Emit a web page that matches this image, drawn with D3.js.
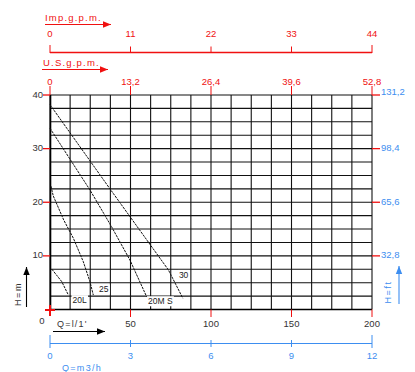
<!DOCTYPE html>
<html><head><meta charset="utf-8">
<script src="https://cdn.jsdelivr.net/npm/d3@7"></script>
<style>body{margin:0;background:#fff}svg{display:block}text{font-family:"Liberation Sans",Arial,sans-serif}</style>
</head><body><svg id="c" width="415" height="372"></svg>
<script>
// ---- data ----
const flowTicks = [0, 50, 100, 150, 200];            // Q = l/1'
const headTicks = [0, 10, 20, 30, 40];               // H = m
const impTicks = [0, 11, 22, 33, 44];                // Imp.g.p.m.
const usTicks = [0, 13.2, 26.4, 39.6, 52.8];         // U.S.g.p.m.
const usLabels = ["0", "13,2", "26,4", "39,6", "52,8"];
const m3hTicks = [0, 3, 6, 9, 12];                   // Q = m3/h
const ftTicks = [32.8, 65.6, 98.4, 131.2];           // H = ft
const ftLabels = ["32,8", "65,6", "98,4", "131,2"];
const curveNames = ["20L", "25", "20M S", "30"];
const q20L = [1.2, 7.3, 11.4];
const h20L = [7.5, 5.2, 2.7];
const q25 = [0.6, 2, 8.5, 14.5, 20.7, 24.8, 26.9];
const h25 = [23, 21.2, 16.7, 13.3, 8.9, 5.2, 2.7];
const q20M = [0, 24.8, 38.3, 49.7, 60];
const h20M = [33.8, 22.3, 15.4, 9.2, 2.4];
const q30 = [0, 37, 73.5, 82.5];
const h30 = [38.2, 22.6, 7.4, 2.1];

const RED = "#f01010", BLUE = "#3d8ef0", DARK = "#333";
const svg = d3.select("#c");
const x = d3.scaleLinear([0, 200], [50, 372]);
const y = d3.scaleLinear([0, 40], [309.5, 95]);
const xImp = d3.scaleLinear([0, 44], [50, 372]);
const xUS = d3.scaleLinear([0, 52.8], [50, 372]);
const xM3 = d3.scaleLinear([0, 12], [50, 372]);
const yFt = d3.scaleLinear([0, 131.2], [309.5, 95]);

// grid
const g = svg.append("g");
d3.range(0, 12.0001, 0.75).forEach(v => {
  g.append("line").attr("x1", xM3(v)).attr("x2", xM3(v)).attr("y1", 95).attr("y2", 309.5)
   .attr("stroke", "#111").attr("stroke-width", 1.1);
});
d3.range(0, 40.0001, 2.5).forEach(v => {
  g.append("line").attr("x1", 50).attr("x2", 372).attr("y1", y(v)).attr("y2", y(v))
   .attr("stroke", "#111").attr("stroke-width", 1.1);
});
g.append("line").attr("x1", 50.5).attr("x2", 50.5).attr("y1", 95).attr("y2", 310).attr("stroke", "#000").attr("stroke-width", 1.6);
g.append("line").attr("x1", 50).attr("x2", 372).attr("y1", 309.5).attr("y2", 309.5).attr("stroke", "#000").attr("stroke-width", 1.6);

// curves
const line = d3.line().x(d => x(d[0])).y(d => y(d[1]));
const curves = [[q20L, h20L], [q25, h25], [q20M, h20M], [q30, h30]];
curves.forEach(([q, h]) => {
  svg.append("path").attr("d", line(q.map((v, i) => [v, h[i]])))
    .attr("fill", "none").attr("stroke", "#111").attr("stroke-width", 1)
    .attr("stroke-dasharray", "2.5,0.9");
});
// curve labels (placed near ends)
const labelPos = [[q20L[2] + 7, 1.6], [q25[6] + 6.5, 3.6], [q20M[4] + 8.5, 1.4], [q30[3] + 0.5, 6.3]];
curveNames.forEach((n, i) => {
  const t = svg.append("text").attr("x", x(labelPos[i][0])).attr("y", y(labelPos[i][1]))
    .attr("text-anchor", "middle").attr("dominant-baseline", "middle")
    .attr("font-size", 8.5).attr("fill", "#222").text(n);
  const bb = t.node().getBBox();
  svg.insert("rect", () => t.node()).attr("x", bb.x - 1).attr("y", bb.y).attr("width", bb.width + 2)
    .attr("height", bb.height).attr("fill", "#fff");
});

// left axis
headTicks.forEach(v => {
  if (v > 0) {
    svg.append("line").attr("x1", 43).attr("x2", 50).attr("y1", y(v)).attr("y2", y(v)).attr("stroke", RED).attr("stroke-width", 1.3);
    svg.append("text").attr("x", 43).attr("y", y(v)).attr("text-anchor", "end").attr("dominant-baseline", "middle")
      .attr("font-size", 9.5).attr("fill", DARK).text(v);
  }
});
svg.append("line").attr("x1", 45).attr("x2", 55).attr("y1", 310).attr("y2", 310).attr("stroke", RED).attr("stroke-width", 2);
svg.append("line").attr("x1", 50).attr("x2", 50).attr("y1", 305).attr("y2", 316).attr("stroke", RED).attr("stroke-width", 2);
svg.append("text").attr("x", 42).attr("y", 324).attr("text-anchor", "middle").attr("font-size", 9.5).attr("fill", DARK).text("0");

// bottom axis l/min
flowTicks.forEach(v => {
  if (v > 0) {
    svg.append("line").attr("x1", x(v)).attr("x2", x(v)).attr("y1", 309.5).attr("y2", 317).attr("stroke", RED).attr("stroke-width", 1);
    svg.append("text").attr("x", x(v)).attr("y", 327).attr("text-anchor", "middle").attr("font-size", 9.5).attr("fill", DARK).text(v);
  }
});
svg.append("text").attr("x", 57).attr("y", 327).attr("font-size", 9).attr("letter-spacing", 1.2).attr("fill", DARK).text("Q=l/1'");

// arrows
function arrow(x1, y1, x2, y2, col) {
  svg.append("line").attr("x1", x1).attr("y1", y1).attr("x2", x2).attr("y2", y2).attr("stroke", col).attr("stroke-width", 1.1);
  const a = Math.atan2(y2 - y1, x2 - x1), L = 8, W = 3.2;
  const p = [[x2, y2], [x2 - L * Math.cos(a) - W * Math.sin(a), y2 - L * Math.sin(a) + W * Math.cos(a)],
             [x2 - L * Math.cos(a) + W * Math.sin(a), y2 - L * Math.sin(a) - W * Math.cos(a)]];
  svg.append("polygon").attr("points", p.map(d => d.join(",")).join(" ")).attr("fill", col);
}
arrow(53, 331.5, 105, 331.5, "#000");
arrow(26.5, 307, 26.5, 267, "#000");
svg.append("text").attr("transform", "translate(21,294) rotate(-90)").attr("text-anchor", "middle")
  .attr("font-size", 9).attr("letter-spacing", 1.5).attr("fill", DARK).text("H=m");

// m3/h axis
svg.append("line").attr("x1", 50).attr("x2", 372).attr("y1", 343.5).attr("y2", 343.5).attr("stroke", BLUE).attr("stroke-width", 1.1);
m3hTicks.forEach((v, i) => {
  const end = (i === 0 || i === m3hTicks.length - 1);
  svg.append("line").attr("x1", xM3(v)).attr("x2", xM3(v)).attr("y1", end ? 335 : 340).attr("y2", end ? 348 : 347)
    .attr("stroke", BLUE).attr("stroke-width", 1);
  svg.append("text").attr("x", xM3(v)).attr("y", 359).attr("text-anchor", "middle").attr("font-size", 9.5).attr("fill", BLUE).text(v);
});
svg.append("text").attr("x", 62).attr("y", 371).attr("font-size", 9).attr("letter-spacing", 1.3).attr("fill", BLUE).text("Q=m3/h");

// right axis ft
ftTicks.forEach((v, i) => {
  svg.append("line").attr("x1", 372).attr("x2", 380).attr("y1", yFt(v)).attr("y2", yFt(v)).attr("stroke", RED).attr("stroke-width", 1.3);
  svg.append("text").attr("x", 381).attr("y", yFt(v) - (i === 3 ? 3 : 0)).attr("dominant-baseline", "middle")
    .attr("font-size", 9.5).attr("fill", BLUE).text(ftLabels[i]);
});
arrow(399, 304, 399, 266, BLUE);
svg.append("text").attr("transform", "translate(391,292) rotate(-90)").attr("text-anchor", "middle")
  .attr("font-size", 9).attr("letter-spacing", 1.5).attr("fill", BLUE).text("H=ft");

// US gpm
usTicks.forEach((v, i) => {
  svg.append("line").attr("x1", xUS(v)).attr("x2", xUS(v)).attr("y1", 86).attr("y2", 95).attr("stroke", RED).attr("stroke-width", 1);
  svg.append("text").attr("x", xUS(v)).attr("y", 85).attr("text-anchor", "middle").attr("font-size", 9.5).attr("fill", RED).text(usLabels[i]);
});
svg.append("text").attr("x", 43).attr("y", 66).attr("font-size", 9.5).attr("letter-spacing", 1.2).attr("fill", RED).text("U.S.g.p.m.");
arrow(42, 69.5, 108, 69.5, RED);

// Imp gpm
svg.append("line").attr("x1", 50).attr("x2", 372).attr("y1", 52.5).attr("y2", 52.5).attr("stroke", RED).attr("stroke-width", 1.4);
impTicks.forEach((v, i) => {
  const end = (i === 0 || i === impTicks.length - 1);
  svg.append("line").attr("x1", xImp(v)).attr("x2", xImp(v)).attr("y1", end ? 45 : 46.5).attr("y2", 53)
    .attr("stroke", RED).attr("stroke-width", 1);
  svg.append("text").attr("x", xImp(v)).attr("y", 37).attr("text-anchor", "middle").attr("font-size", 9.5).attr("fill", RED).text(v);
});
svg.append("text").attr("x", 45).attr("y", 21).attr("font-size", 9.5).attr("letter-spacing", 1.2).attr("fill", RED).text("Imp.g.p.m.");
arrow(45, 24.5, 111, 24.5, RED);
</script></body></html>
